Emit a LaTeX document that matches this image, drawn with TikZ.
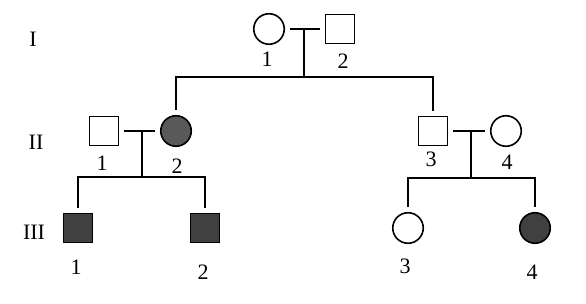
\documentclass[tikz,border=0pt]{standalone}
\usepackage{fontspec}
\setmainfont{Liberation Serif}
\definecolor{shadeA}{HTML}{404040}
\definecolor{shadeB}{HTML}{595959}
\begin{document}
\begin{tikzpicture}[
  x=1pt, y=-1pt,
  line width=1.6pt,
  every node/.style={inner sep=0pt, font=\fontsize{22}{24}\selectfont},
  male/.style={rectangle,draw,minimum size=29pt},
  female/.style={circle,draw,minimum size=30.5pt},
  affected/.style={fill=shadeA},
  affectedlight/.style={fill=shadeB},
  mate/.style={shorten <=5pt, shorten >=5pt},
  drop/.style={shorten >=5pt}
]
  \useasboundingbox (0,0) rectangle (586,304);
  \node (genI) at (33,39) {I};
  \node (genII) at (36,142) {II};
  \node (genIII) at (34,232) {III};

  \node[female] (I1) at (269,29) {};
  \node[male] (I2) at (340,29) {};
  \node (I1num) at (267,59) {1};
  \node (I2num) at (343,61) {2};

  \node[male] (II1) at (104,131) {};
  \node[female,affectedlight] (II2) at (176,131) {};
  \node[male] (II3) at (433,131) {};
  \node[female] (II4) at (506,131) {};
  \node (II1num) at (102,163) {1};
  \node (II2num) at (177,166) {2};
  \node (II3num) at (431,159) {3};
  \node (II4num) at (507,162) {4};

  \node[male,affected] (III1) at (78,228) {};
  \node[male,affected] (III2) at (205,228) {};
  \node[female] (III3) at (408,228) {};
  \node[female,affected] (III4) at (535,228) {};
  \node (III1num) at (76,267) {1};
  \node (III2num) at (203,272) {2};
  \node (III3num) at (405,266) {3};
  \node (III4num) at (532,272) {4};

  \coordinate (mI) at (304,29);
  \coordinate (sI) at (304,77);
  \coordinate (mIIa) at (142,130);
  \coordinate (sIIa) at (142,177);
  \coordinate (mIIb) at (471,130);
  \coordinate (sIIb) at (471,178);

  \draw[mate] (I1) -- (I2);
  \draw (mI) -- (sI);
  \draw[drop] (sI) -| (II2);
  \draw[drop] (sI) -| (II3);

  \draw[mate] (II1) -- (II2);
  \draw (mIIa) -- (sIIa);
  \draw[drop] (sIIa) -| (III1);
  \draw[drop] (sIIa) -| (III2);

  \draw[mate] (II3) -- (II4);
  \draw (mIIb) -- (sIIb);
  \draw[drop] (sIIb) -| (III3);
  \draw[drop] (sIIb) -| (III4);
\end{tikzpicture}
\end{document}
